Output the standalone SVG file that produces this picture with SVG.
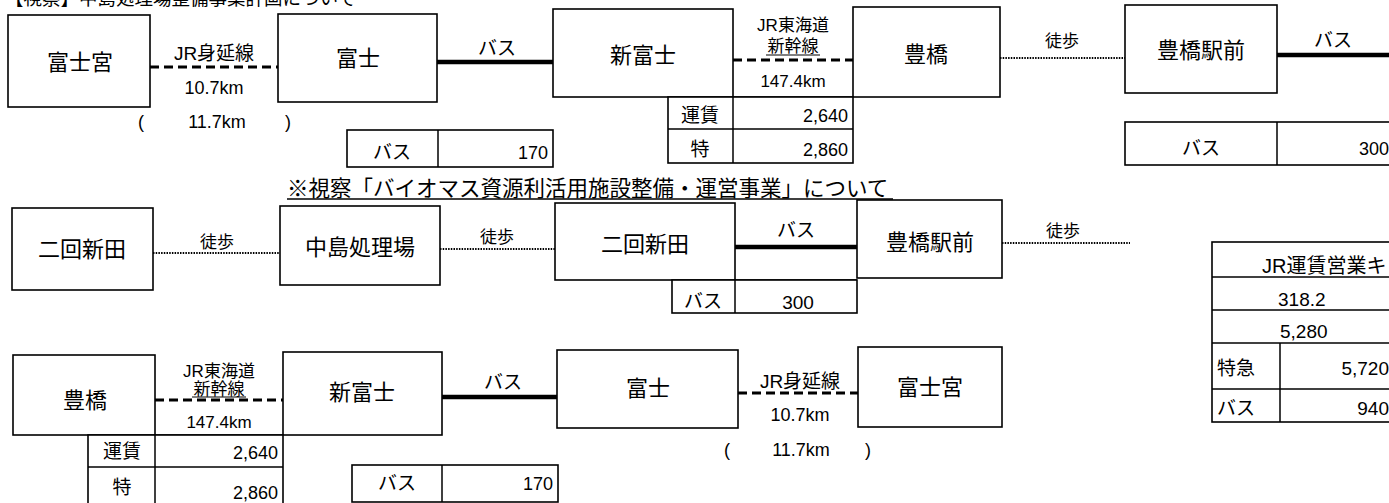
<svg xmlns="http://www.w3.org/2000/svg" width="1389" height="503" viewBox="0 0 1389 503">
<style>
text{font-family:"Liberation Sans","Noto Sans CJK JP",sans-serif;fill:#000}
.n{font-size:22px;text-anchor:middle}
.s{font-size:18px;text-anchor:middle}
.sm{font-size:17px;text-anchor:middle}
.v{font-size:18px;text-anchor:end}
.c{font-size:19px;text-anchor:middle}
.l{font-size:19px}
.box{fill:#fff;stroke:#000;stroke-width:1.6}
.ln{stroke:#000;stroke-width:1.5;fill:none}
.ul{stroke:#000;stroke-width:1;fill:none}
.jr{stroke:#000;stroke-width:3;stroke-dasharray:9 5;fill:none}
.bus{stroke:#000;stroke-width:4.5;fill:none}
.walk{stroke:#000;stroke-width:2;stroke-dasharray:1.5 1.2;fill:none}
</style>
<rect width="1389" height="503" fill="#fff"/>
<text x="5" y="5" style="font-size:18.5px">【視察】中島処理場整備事業計画について</text>
<text x="287" y="196" style="font-size:21.5px">※視察「バイオマス資源利活用施設整備・運営事業」について</text>
<line class="ln" x1="287" y1="199" x2="893" y2="199"/>

<g id="connectors">
<line class="jr" x1="150" y1="67" x2="278" y2="67"/>
<line class="bus" x1="437" y1="62" x2="553" y2="62"/>
<line class="jr" x1="733" y1="60" x2="853" y2="60"/>
<line class="walk" x1="1000" y1="58" x2="1125" y2="58"/>
<line class="bus" x1="1277" y1="55" x2="1389" y2="55"/>
<line class="walk" x1="153" y1="253" x2="280" y2="253"/>
<line class="walk" x1="440" y1="249" x2="555" y2="249"/>
<line class="bus" x1="735" y1="247" x2="857" y2="247"/>
<line class="walk" x1="1002" y1="243" x2="1130" y2="243"/>
<line class="jr" x1="155" y1="400" x2="283" y2="400"/>
<line class="bus" x1="442" y1="397" x2="557" y2="397"/>
<line class="jr" x1="738" y1="393" x2="858" y2="393"/>
</g>

<g id="labels">
<text class="l" x="214" y="60" text-anchor="middle">JR身延線</text>
<text class="s" x="214" y="94">10.7km</text>
<text class="s" x="141" y="128">(</text>
<text class="s" x="217" y="128">11.7km</text>
<text class="s" x="288" y="128">)</text>
<text class="l" x="497" y="55" text-anchor="middle">バス</text>
<text class="sm" x="793" y="31">JR東海道</text>
<text class="sm" x="793" y="52">新幹線</text>
<line class="ul" x1="766" y1="55" x2="820" y2="55"/>
<text class="sm" x="793" y="87">147.4km</text>
<text class="sm" x="1062" y="47">徒歩</text>
<text class="l" x="1333" y="47" text-anchor="middle">バス</text>
<text class="sm" x="217" y="248">徒歩</text>
<text class="sm" x="497" y="243">徒歩</text>
<text class="l" x="796" y="237" text-anchor="middle">バス</text>
<text class="sm" x="1063" y="237">徒歩</text>
<text class="sm" x="219" y="377">JR東海道</text>
<text class="sm" x="219" y="395">新幹線</text>
<line class="ul" x1="192" y1="397" x2="246" y2="397"/>
<text class="sm" x="219" y="428">147.4km</text>
<text class="l" x="503" y="389" text-anchor="middle">バス</text>
<text class="l" x="800" y="388" text-anchor="middle">JR身延線</text>
<text class="s" x="800" y="421">10.7km</text>
<text class="s" x="727" y="456">(</text>
<text class="s" x="801" y="456">11.7km</text>
<text class="s" x="868" y="456">)</text>
</g>

<g id="fujinomiya1"><rect class="box" x="8" y="15" width="142" height="92"/><text class="n" x="80" y="70">富士宮</text></g>
<g id="fuji1"><rect class="box" x="278" y="14" width="159" height="88"/><text class="n" x="358" y="66">富士</text></g>
<g id="shinfuji1"><rect class="box" x="553" y="9" width="180" height="88"/><text class="n" x="643" y="63">新富士</text>
<line class="ln" x1="733" y1="97" x2="853" y2="97"/></g>
<g id="toyohashi1"><rect class="box" x="853" y="7" width="147" height="90"/><text class="n" x="926" y="62">豊橋</text></g>
<g id="toyohashiekimae1"><rect class="box" x="1125" y="5" width="152" height="88"/><text class="n" x="1201" y="58">豊橋駅前</text></g>

<g id="fare-bus1"><rect class="box" x="347" y="130" width="206" height="37"/><line class="ln" x1="438" y1="130" x2="438" y2="167"/>
<text class="c" x="392" y="159">バス</text><text class="v" x="548" y="159">170</text></g>
<g id="fare-jr1"><rect class="box" x="668" y="97" width="185" height="66"/><line class="ln" x1="733" y1="97" x2="733" y2="163"/><line class="ln" x1="668" y1="129" x2="853" y2="129"/>
<text class="c" x="700" y="122">運賃</text><text class="v" x="848" y="122">2,640</text>
<text class="c" x="700" y="156">特</text><text class="v" x="848" y="156">2,860</text></g>
<g id="fare-bus2"><rect class="box" x="1125" y="122" width="270" height="43"/><line class="ln" x1="1277" y1="122" x2="1277" y2="165"/>
<text class="c" x="1201" y="155">バス</text><text class="v" x="1389" y="155">300</text></g>

<g id="niikaishinden1"><rect class="box" x="12" y="208" width="141" height="82"/><text class="n" x="82" y="257">二回新田</text></g>
<g id="nakajima"><rect class="box" x="280" y="206" width="160" height="79"/><text class="n" x="360" y="255">中島処理場</text></g>
<g id="niikaishinden2"><rect class="box" x="555" y="203" width="180" height="77"/><text class="n" x="645" y="252">二回新田</text>
<line class="ln" x1="735" y1="280" x2="857" y2="280"/></g>
<g id="toyohashiekimae2"><rect class="box" x="857" y="200" width="145" height="78"/><text class="n" x="930" y="250">豊橋駅前</text></g>
<g id="fare-bus3"><rect class="box" x="672" y="280" width="185" height="33"/><line class="ln" x1="735" y1="280" x2="735" y2="313"/>
<text class="c" x="703" y="308">バス</text><text class="c" x="798" y="309">300</text></g>

<g id="jr-summary"><rect class="box" x="1212" y="242" width="190" height="180"/>
<line class="ln" x1="1212" y1="277" x2="1389" y2="277"/>
<line class="ln" x1="1212" y1="310" x2="1389" y2="310"/>
<line class="ln" x1="1212" y1="343" x2="1389" y2="343"/>
<line class="ln" x1="1212" y1="389" x2="1389" y2="389"/>
<line class="ln" x1="1280" y1="343" x2="1280" y2="422"/>
<text x="1262" y="273" style="font-size:20px">JR運賃営業キ</text>
<text class="l" x="1278" y="306">318.2</text>
<text class="l" x="1280" y="338">5,280</text>
<text class="l" x="1217" y="375">特急</text><text class="v" x="1389" y="375" style="font-size:19px">5,720</text>
<text class="l" x="1217" y="415">バス</text><text class="v" x="1389" y="415" style="font-size:19px">940</text></g>

<g id="toyohashi3"><rect class="box" x="13" y="355" width="142" height="80"/><text class="n" x="85" y="408">豊橋</text>
<line class="ln" x1="155" y1="435" x2="283" y2="435"/></g>
<g id="shinfuji3"><rect class="box" x="283" y="352" width="159" height="83"/><text class="n" x="362" y="400">新富士</text></g>
<g id="fuji3"><rect class="box" x="557" y="350" width="181" height="78"/><text class="n" x="648" y="396">富士</text></g>
<g id="fujinomiya3"><rect class="box" x="858" y="347" width="144" height="80"/><text class="n" x="930" y="395">富士宮</text></g>
<g id="fare-jr3"><rect class="box" x="88" y="435" width="195" height="72"/><line class="ln" x1="155" y1="435" x2="155" y2="507"/><line class="ln" x1="88" y1="467" x2="283" y2="467"/>
<text class="c" x="122" y="458">運賃</text><text class="v" x="278" y="459">2,640</text>
<text class="c" x="122" y="494">特</text><text class="v" x="278" y="499">2,860</text></g>
<g id="fare-bus4"><rect class="box" x="352" y="465" width="206" height="37"/><line class="ln" x1="442" y1="465" x2="442" y2="502"/>
<text class="c" x="397" y="490">バス</text><text class="v" x="553" y="490">170</text></g>
</svg>
